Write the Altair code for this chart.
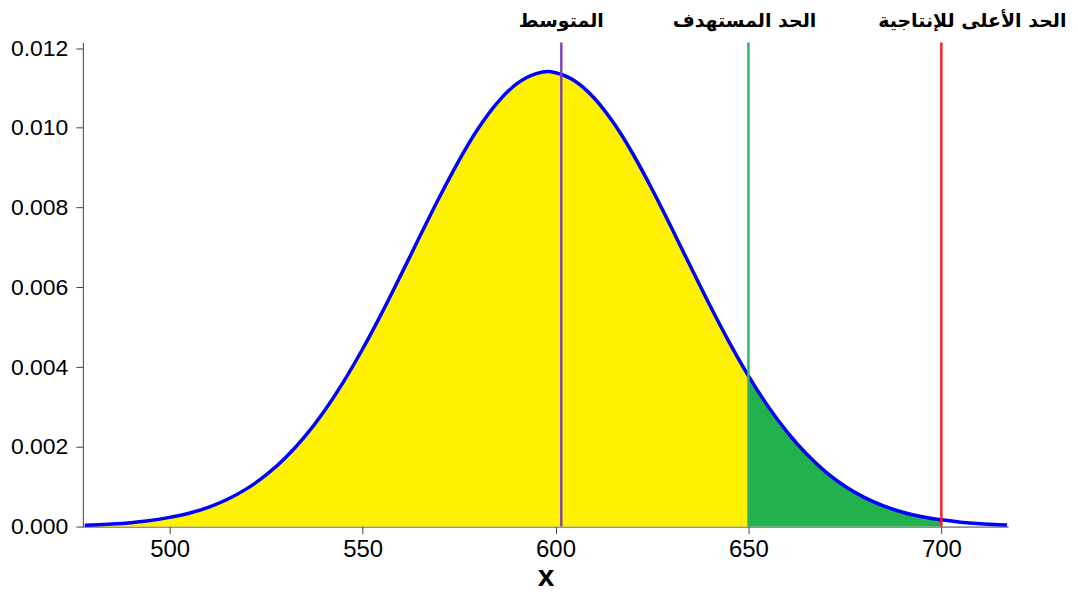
import altair as alt
import pandas as pd

# Density curve
xs = [478, 480, 485, 490, 495, 500, 505, 510, 515, 520, 525, 530, 535, 540, 545,
      550, 555, 560, 565, 570, 575, 580, 585, 590, 595, 598, 600, 605, 610, 615, 620,
      625, 630, 635, 640, 645, 650, 655, 660, 665, 670, 675, 680, 685, 690, 695,
      700, 705, 710, 715, 717]
ys = [0.000032, 0.000039, 0.000062, 0.000098, 0.000150, 0.000230, 0.000335, 0.000483,
      0.000685, 0.000952, 0.001295, 0.001727, 0.002256, 0.002888, 0.003623, 0.004453,
      0.005360, 0.006325, 0.007310, 0.008278, 0.009186, 0.009989, 0.010640, 0.011106,
      0.011358, 0.011410, 0.011381, 0.011174, 0.010749, 0.010131, 0.009356, 0.008466,
      0.007506, 0.006520, 0.005549, 0.004627, 0.003781, 0.003027, 0.002374, 0.001825,
      0.001374, 0.001013, 0.000733, 0.000519, 0.000360, 0.000245, 0.000170, 0.000110,
      0.000070, 0.000045, 0.000038]

# Reference lines
line_values = [601.5, 650, 700]
line_labels = ["المتوسط", "الحد المستهدف", "الحد الأعلى للإنتاجية"]
line_colors = ["#7B3FB5", "#2DB460", "#FF1A1A"]
label_dx = [0, -4, 31]

x_ticks = [500, 550, 600, 650, 700]
y_ticks = [0.000, 0.002, 0.004, 0.006, 0.008, 0.010, 0.012]

target = 650
upper = 700

df = pd.DataFrame({"x": xs, "y": ys})

xscale = alt.Scale(domain=[477.5, 717.3], nice=False, zero=False)
yscale = alt.Scale(domain=[0, 0.01214], nice=False)

xenc = alt.X("x:Q", scale=xscale,
             axis=alt.Axis(values=x_ticks, title="x", format="d", grid=False,
                           labelFontSize=24, labelFont="Liberation Sans", labelColor="black",
                           labelPadding=4,
                           titleFontSize=30, titleFont="Liberation Sans", titleFontWeight="bold",
                           titleColor="black", titlePadding=0,
                           domainColor="#404040", tickColor="#404040", tickSize=7))
yenc = alt.Y("y:Q", scale=yscale,
             axis=alt.Axis(values=y_ticks, title=None, format=".3f", grid=False,
                           labelFontSize=23, labelFont="Liberation Sans", labelColor="black",
                           labelPadding=8,
                           domainColor="#404040", tickColor="#404040", tickSize=7))

base = alt.Chart(df)

yellow = base.transform_filter(alt.datum.x <= target).mark_area(
    color="#FFF200", opacity=1, interpolate="monotone").encode(x=xenc, y=yenc)
green = base.transform_filter((alt.datum.x >= target) & (alt.datum.x <= upper)).mark_area(
    color="#22B14C", opacity=1, interpolate="monotone").encode(x="x:Q", y="y:Q")
curve = base.mark_line(color="#0000FF", strokeWidth=3.5, interpolate="monotone").encode(
    x="x:Q", y="y:Q")

layers = [yellow, green, curve]
for v, lab, col, dx in zip(line_values, line_labels, line_colors, label_dx):
    d = pd.DataFrame({"x": [v], "label": [lab]})
    layers.append(alt.Chart(d).mark_rule(color=col, strokeWidth=2.4).encode(x="x:Q"))
    layers.append(alt.Chart(d).mark_text(
        font="DejaVu Sans", fontSize=19, fontWeight="bold", color="black",
        align="center", baseline="middle", dx=dx
    ).encode(x="x:Q", y=alt.value(-22), text="label:N"))

chart = alt.layer(*layers).properties(
    width=927, height=485,
    autosize=alt.AutoSizeParams(type="none"),
    padding={"left": 75, "top": 34, "right": 62, "bottom": 70},
).configure_view(stroke=None)

chart.save("out.html", embed_options={"renderer": "svg", "actions": False})
